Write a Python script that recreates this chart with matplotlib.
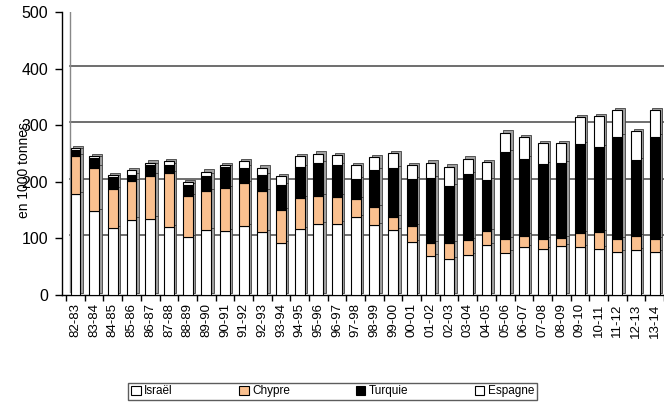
import matplotlib.pyplot as plt
import matplotlib.transforms as mtransforms
from matplotlib.patches import Patch
import numpy as np

plt.rcParams['font.family'] = ['Liberation Sans', 'DejaVu Sans']

campagnes = ['82-83', '83-84', '84-85', '85-86', '86-87', '87-88', '88-89', '89-90',
             '90-91', '91-92', '92-93', '93-94', '94-95', '95-96', '96-97', '97-98',
             '98-99', '99-00', '00-01', '01-02', '02-03', '03-04', '04-05', '05-06',
             '06-07', '07-08', '08-09', '09-10', '10-11', '11-12', '12-13', '13-14']

israel = [178, 148, 118, 133, 135, 120, 102, 114, 113, 122, 111, 92, 117, 125, 126, 138,
          124, 115, 94, 69, 64, 70, 88, 75, 84, 81, 87, 84, 82, 76, 79, 76]
chypre = [68, 77, 69, 68, 76, 95, 73, 69, 76, 76, 73, 58, 54, 50, 48, 31,
          31, 23, 27, 23, 27, 27, 25, 24, 21, 17, 14, 25, 29, 23, 25, 23]
turquie = [10, 17, 22, 11, 18, 15, 19, 28, 37, 27, 28, 44, 55, 58, 56, 36,
           65, 86, 84, 115, 102, 116, 90, 154, 136, 133, 132, 157, 150, 181, 135, 181]
espagne = [3, 4, 3, 8, 5, 6, 6, 7, 4, 12, 13, 16, 20, 17, 17, 25,
           23, 27, 25, 27, 34, 28, 32, 34, 38, 38, 35, 48, 55, 47, 50, 47]

series = [('Israël', israel, 'white'),
          ('Chypre', chypre, '#fac08f'),
          ('Turquie', turquie, 'black'),
          ('Espagne', espagne, 'white')]

fig = plt.figure(figsize=(6.64, 4.04), dpi=100)
ax = fig.add_axes([0.0934, 0.27, 0.9066, 0.70])

x = np.arange(len(campagnes))
w = 0.53

# petit effet 3D : face arriere decalee de quelques pixels
shift = ax.transData + mtransforms.ScaledTranslation(0.025, 0.022, fig.dpi_scale_trans)
bas = np.zeros(len(campagnes))
for nom, vals, col in series:
    ax.bar(x, vals, w, bottom=bas, color='#a0a0a0', edgecolor='#404040',
           linewidth=0.6, transform=shift, zorder=2)
    bas = bas + np.array(vals)

bas = np.zeros(len(campagnes))
for nom, vals, col in series:
    ax.bar(x, vals, w, bottom=bas, color=col, edgecolor='black', linewidth=0.8, zorder=3)
    bas = bas + np.array(vals)

ax.set_ylim(0, 500)
ax.set_xlim(-0.72, len(campagnes) - 0.63)
ax.set_yticks(range(0, 501, 100))

# quadrillage sur la paroi du fond
fond = ax.get_yaxis_transform() + mtransforms.ScaledTranslation(0.08, 0.03, fig.dpi_scale_trans)
for v in range(100, 501, 100):
    ax.plot([0, 1], [v, v], color='#555555', linewidth=1.2, transform=fond, zorder=1)
ax.plot([0, 0], [0, 500], color='#888888', linewidth=1.0, transform=fond, zorder=1)

ax.set_xticks(x)
ax.set_xticklabels(campagnes, rotation=90, fontsize=9.5)
ax.set_xticks(np.arange(-0.5, len(campagnes), 1), minor=True)
ax.tick_params(axis='x', which='major', length=0, pad=6)
ax.tick_params(axis='x', which='minor', length=4, width=1, direction='out')
ax.tick_params(axis='y', labelsize=11.5, length=5, width=1, pad=5)

for s in ['top', 'right']:
    ax.spines[s].set_visible(False)
ax.spines['left'].set_linewidth(1)
ax.spines['bottom'].set_linewidth(1)

fig.text(0.036, 0.58, 'en 1000 tonnes', rotation=90, fontsize=10, ha='center', va='center')

handles = [Patch(facecolor=c, edgecolor='black', linewidth=0.8) for n, v, c in series]
leg = fig.legend(handles, [n for n, v, c in series], loc='center', ncol=4,
                 bbox_to_anchor=(0.501, 0.031), fontsize=8.5, frameon=True, fancybox=False,
                 handlelength=0.8, handleheight=0.8, handletextpad=0.3,
                 columnspacing=5.6, borderpad=0.25, borderaxespad=0)
leg.get_frame().set_edgecolor('#333333')
leg.get_frame().set_linewidth(1)

fig.savefig('out.png', dpi=100)
